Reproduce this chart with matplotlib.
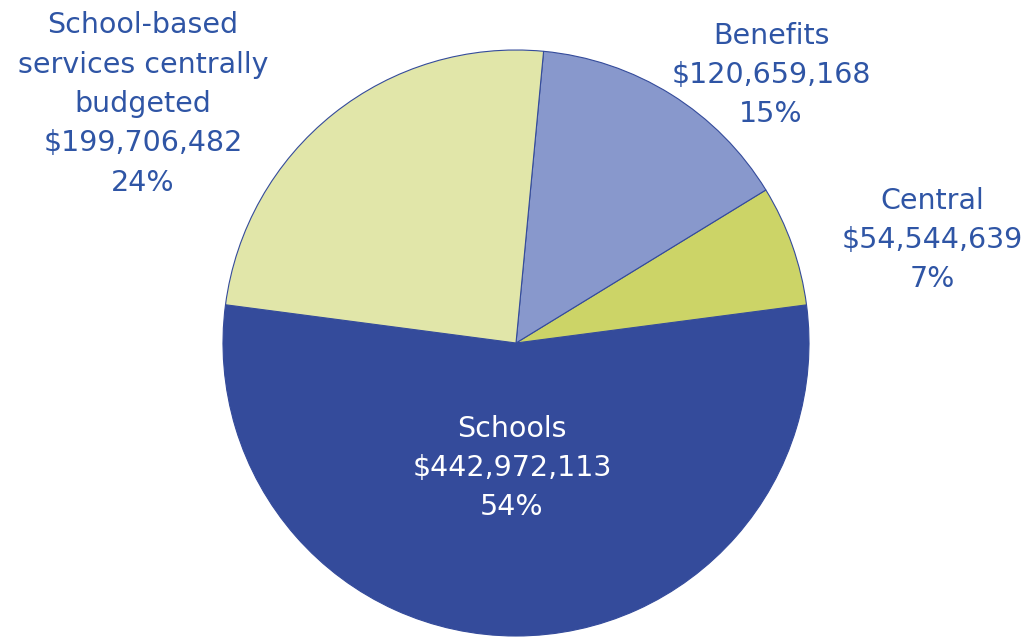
import matplotlib.pyplot as plt

# budget split, counter-clockwise from the bottom slice
names = ["Schools", "Central", "Benefits", "School-based\nservices centrally\nbudgeted"]
amounts = [442972113, 54544639, 120659168, 199706482]
colors = ["#344b9b", "#ccd467", "#8898cc", "#e1e6a9"]

# label anchor points (pixel space, y up)
label_pos = [(512, 169), (932, 397), (771, 562), (143, 533)]
label_color = ["white", "#2f55a5", "#2f55a5", "#2f55a5"]

fig = plt.figure(figsize=(10.24, 6.37), dpi=100)
ax = fig.add_axes([0, 0, 1, 1])
ax.set_xlim(0, 1024)
ax.set_ylim(0, 637)
ax.set_aspect("equal")
ax.axis("off")

ax.pie(amounts, colors=colors, startangle=172.5, counterclock=True,
       center=(516, 294), radius=293,
       wedgeprops=dict(edgecolor="#344b9b", linewidth=0.8))
ax.set_xlim(0, 1024)
ax.set_ylim(0, 637)

total = sum(amounts)
for name, amt, (x, y), c in zip(names, amounts, label_pos, label_color):
    pct = round(amt / total * 100)
    txt = f"{name}\n${amt:,}\n{pct}%"
    ax.text(x, y, txt, ha="center", va="center", multialignment="center",
            fontsize=20.5, color=c, linespacing=1.52, family="DejaVu Sans")

fig.savefig("out.png", dpi=100)
